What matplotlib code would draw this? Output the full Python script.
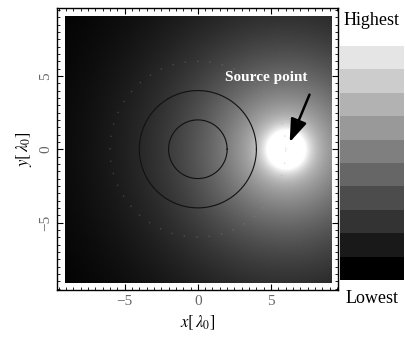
import numpy as np
import matplotlib.pyplot as plt
from matplotlib.colors import ListedColormap

plt.rcParams['font.family'] = ['Liberation Serif', 'DejaVu Serif']
plt.rcParams['mathtext.fontset'] = 'stix'

# data
source_xy = [6.0, 0.0]
contour_radii = [2.0, 4.0]
dotted_radius = 6.0
field_extent = [-9.1, 9.1, -9.1, 9.1]
major_ticks = [-5, 0, 5]
cbar_levels = [0.0, 0.1, 0.2, 0.3, 0.4, 0.5, 0.6, 0.7, 0.8, 0.9]
arrow_tip = [6.2, 0.3]
arrow_tail = [7.7, 3.9]
label_xy = [4.7, 4.9]

# intensity field falling off from the source point
xs = np.linspace(field_extent[0], field_extent[1], 400)
ys = np.linspace(field_extent[2], field_extent[3], 400)
X, Y = np.meshgrid(xs, ys)
d = np.hypot(X - source_xy[0], Y - source_xy[1])
field = 1.05 * np.exp(-d / 6.0) - 0.04 + 0.6 * np.exp(-(d / 1.25) ** 2)
field = np.clip(field, 0, 1)

fig = plt.figure(figsize=(4.05, 3.38), dpi=100)
ax = fig.add_axes([0.1415, 0.142, 0.694, 0.833])
ax.imshow(field, cmap='gray', vmin=0, vmax=1, origin='lower',
          extent=field_extent, interpolation='bilinear', aspect='auto')

t = np.linspace(0, 2 * np.pi, 300)
for r in contour_radii:
    ax.plot(r * np.cos(t), r * np.sin(t), color='#111111', lw=0.8)
ax.plot(dotted_radius * np.cos(t), dotted_radius * np.sin(t), color='#999999',
        lw=1.0, ls=(0, (1, 8)), alpha=0.3)

ax.annotate('', xy=arrow_tip, xytext=arrow_tail,
            arrowprops=dict(arrowstyle='-|>,head_length=1.4,head_width=0.5',
                            color='black', lw=1.8))
ax.text(label_xy[0], label_xy[1], 'Source point', color='white', fontsize=11,
        fontweight='bold', ha='center', va='center')

ax.set_xlim(-9.6, 9.6)
ax.set_ylim(-9.6, 9.6)
ax.set_xticks(major_ticks)
ax.set_yticks(major_ticks)
ax.set_xticks(np.arange(-9.5, 9.6, 0.5), minor=True)
ax.set_yticks(np.arange(-9.5, 9.6, 0.5), minor=True)
ax.set_xticklabels(['\u22125', '0', '5'])
ax.set_yticklabels(['\u22125', '0', '5'], rotation=90, va='center')
ax.tick_params(which='both', direction='in', top=True, right=True,
               labelcolor='#666666', labelsize=11)
ax.tick_params(which='major', length=4, width=0.8)
ax.tick_params(which='minor', length=2, width=0.6)
for s in ax.spines.values():
    s.set_linewidth(1.0)
ax.set_xlabel(r'$x[\,\lambda_0]$', fontsize=12, labelpad=4)
ax.set_ylabel(r'$y[\,\lambda_0]$', fontsize=12, labelpad=4)

# discrete colour bar
cax = fig.add_axes([0.8395, 0.1716, 0.156, 0.692])
cmap = ListedColormap([[v, v, v] for v in cbar_levels])
cax.imshow(np.arange(len(cbar_levels)).reshape(-1, 1), cmap=cmap,
           origin='lower', aspect='auto', extent=[0, 1, 0, len(cbar_levels)])
cax.set_axis_off()
fig.text(0.918, 0.94, 'Highest', ha='center', va='center', fontsize=13)
fig.text(0.918, 0.118, 'Lowest', ha='center', va='center', fontsize=13)

fig.savefig('out.png', dpi=100)
